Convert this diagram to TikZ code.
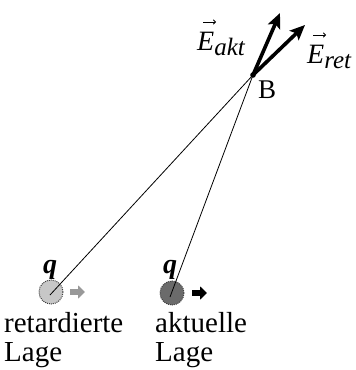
\documentclass[tikz,border=0pt]{standalone}
\usepackage{fontspec}
\setmainfont{Liberation Serif}
\usetikzlibrary{arrows.meta}
\begin{document}
\begin{tikzpicture}[x=1pt,y=-1pt,
  lbl/.style={inner sep=0pt,anchor=base west,font=\fontsize{29}{31}\selectfont},
  qlbl/.style={inner sep=0pt,anchor=base,font=\fontsize{28}{30}\selectfont\bfseries\itshape},
  charge/.style={circle,minimum size=24pt,inner sep=0pt,draw=black!75,densely dotted,line width=1pt},
  field/.style={line width=3.6pt,-{Stealth[length=15pt,width=13pt,inset=3pt]}},
  conn/.style={line width=0.8pt},
  motion/.style={line width=6pt,-{Triangle[length=7pt,width=13pt]}},
  vecarr/.style={line width=0.9pt,-{To[length=3pt,width=5pt]}}]
\useasboundingbox (0,0) rectangle (356,370);
% charges
\node[charge,fill=black!22] (q1) at (51,292) {};
\node[charge,fill=black!58] (q2) at (172,293) {};
% field point
\coordinate (B) at (253,75);
\coordinate (Eakt) at (280,13);
\coordinate (Eret) at (305,25);
% connectors
\draw[conn] (B) -- ([shift={(-1,3)}]q1.center);
\draw[conn] (B) -- ([shift={(-2,4)}]q2.center);
% field arrows
\draw[field] (B) -- (Eakt);
\draw[field] (B) -- (Eret);
\fill (B) circle (2.8pt);
% motion arrows
\coordinate (m1a) at (70,292);
\coordinate (m1b) at (85,292);
\coordinate (m2a) at (192,293);
\coordinate (m2b) at (207,293);
\draw[motion,black!40] (m1a) -- (m1b);
\draw[motion,black] (m2a) -- (m2b);
% labels
\node[lbl,font=\fontsize{27}{30}\selectfont] (Blab) at (258,98) {B};
\node[qlbl] (q1lab) at (50,273) {q};
\node[qlbl] (q2lab) at (170,273) {q};
\node[lbl] (ret1) at (4,332) {retardierte};
\node[lbl] (ret2) at (4,361) {Lage};
\node[lbl] (akt1) at (155,332) {aktuelle};
\node[lbl] (akt2) at (155,361) {Lage};
% E labels
\node[lbl,font=\fontsize{28}{30}\selectfont\itshape] (EaktLab) at (197,50) {E\raisebox{-5pt}{\fontsize{25}{27}\selectfont akt}};
\node[lbl,font=\fontsize{28}{30}\selectfont\itshape] (EretLab) at (307,63) {E\raisebox{-5pt}{\fontsize{25}{27}\selectfont ret}};
\draw[vecarr] (203,22) -- (216,22);
\draw[vecarr] (313,35) -- (326,35);
\end{tikzpicture}
\end{document}
